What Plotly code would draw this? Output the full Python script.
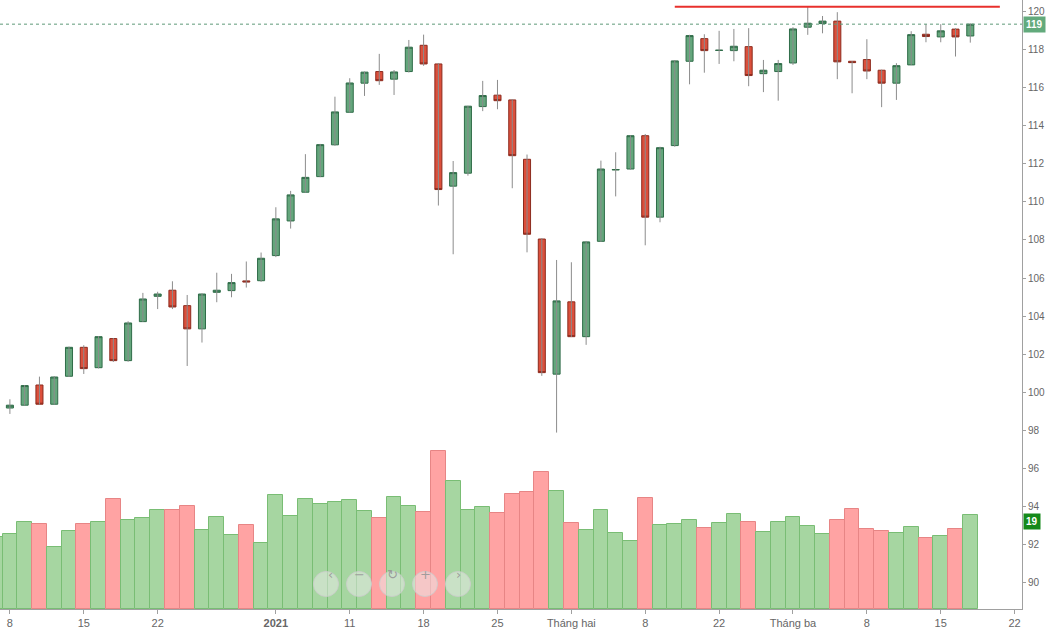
import plotly.graph_objects as go

# ---------------- data ----------------
dates = [
    "2020-12-07", "2020-12-08", "2020-12-09", "2020-12-10", "2020-12-11",
    "2020-12-14", "2020-12-15", "2020-12-16", "2020-12-17", "2020-12-18",
    "2020-12-21", "2020-12-22", "2020-12-23", "2020-12-24", "2020-12-25",
    "2020-12-28", "2020-12-29", "2020-12-30", "2020-12-31",
    "2021-01-04", "2021-01-05", "2021-01-06", "2021-01-07", "2021-01-08",
    "2021-01-11", "2021-01-12", "2021-01-13", "2021-01-14", "2021-01-15",
    "2021-01-18", "2021-01-19", "2021-01-20", "2021-01-21", "2021-01-22",
    "2021-01-25", "2021-01-26", "2021-01-27", "2021-01-28", "2021-01-29",
    "2021-02-01", "2021-02-02", "2021-02-03", "2021-02-04", "2021-02-05",
    "2021-02-08", "2021-02-09", "2021-02-17", "2021-02-18", "2021-02-19",
    "2021-02-22", "2021-02-23", "2021-02-24", "2021-02-25", "2021-02-26",
    "2021-03-01", "2021-03-02", "2021-03-03", "2021-03-04", "2021-03-05",
    "2021-03-08", "2021-03-09", "2021-03-10", "2021-03-11", "2021-03-12",
    "2021-03-15", "2021-03-16", "2021-03-17",
]
future_dates = ["2021-03-18", "2021-03-19", "2021-03-22"]

opens = [98.37, 99.17, 99.32, 100.38, 99.37, 100.84, 102.36, 101.29, 102.82, 101.66,
         103.71, 105.04, 105.36, 104.55, 103.33, 105.25, 105.34, 105.85, 105.86, 107.18,
         109.00, 110.51, 111.33, 113.00, 114.71, 116.24, 116.85, 116.45, 116.85, 118.23,
         117.25, 110.83, 111.51, 115.01, 115.61, 115.36, 112.24, 108.05, 100.95, 104.75,
         102.92, 107.93, 111.68, 111.73, 113.48, 109.20, 112.96, 117.39, 118.58, 117.96,
         117.95, 118.16, 116.74, 116.85, 117.30, 119.18, 119.37, 119.50, 117.39, 117.48,
         116.92, 116.24, 117.20, 118.81, 118.67, 119.08, 118.72]
highs = [99.30, 99.63, 100.38, 100.82, 100.85, 102.40, 102.47, 102.95, 102.85, 103.73,
         105.22, 105.28, 105.83, 105.11, 105.20, 106.28, 106.22, 106.87, 107.34, 109.72,
         110.58, 112.51, 113.05, 115.53, 116.50, 116.85, 117.78, 116.93, 118.51, 118.79,
         117.30, 112.15, 115.05, 116.36, 116.41, 115.40, 112.49, 108.10, 106.95, 106.83,
         107.95, 112.17, 112.61, 113.50, 113.57, 112.90, 117.45, 118.78, 118.81, 118.99,
         119.09, 119.13, 117.46, 117.46, 119.18, 120.26, 119.77, 119.97, 117.40, 118.55,
         116.95, 117.29, 118.97, 119.34, 119.34, 119.13, 119.37]
lows = [98.30, 98.86, 99.30, 99.35, 99.35, 100.80, 100.96, 101.25, 101.59, 101.60,
        103.70, 104.37, 104.37, 101.38, 102.61, 104.73, 104.99, 105.50, 105.80, 107.10,
        108.60, 110.49, 111.30, 112.95, 114.70, 115.57, 116.15, 115.62, 116.80, 117.15,
        109.81, 107.25, 111.38, 114.77, 114.87, 110.72, 107.35, 100.86, 97.88, 102.90,
        102.49, 107.90, 110.29, 111.70, 107.72, 108.93, 112.90, 116.18, 116.79, 117.25,
        117.39, 116.08, 115.77, 115.32, 117.20, 118.78, 118.86, 116.45, 115.71, 116.45,
        114.98, 115.36, 117.20, 118.39, 118.39, 117.64, 118.37]
closes = [99.24, 99.32, 100.35, 99.37, 100.80, 102.36, 101.24, 102.92, 101.66, 103.64,
          104.90, 105.16, 104.48, 103.33, 105.16, 105.36, 105.76, 105.80, 107.04, 109.11,
          110.37, 111.29, 113.01, 114.73, 116.25, 116.82, 116.37, 116.83, 118.13, 117.25,
          110.65, 111.54, 115.03, 115.59, 115.32, 112.43, 108.30, 101.03, 104.80, 102.92,
          107.90, 111.73, 111.70, 113.48, 109.20, 112.85, 117.41, 118.74, 117.95, 117.97,
          118.18, 116.64, 116.92, 117.27, 119.09, 119.39, 119.50, 117.36, 117.32, 116.88,
          116.24, 117.16, 118.79, 118.69, 118.99, 118.67, 119.34]
volumes = [14.85, 15.46, 18.00, 17.46, 12.72, 16.08, 17.46, 17.88, 22.62, 18.41,
           18.82, 20.41, 20.41, 21.24, 16.29, 19.03, 15.26, 17.26, 13.67, 23.44,
           19.18, 22.62, 21.65, 22.06, 22.41, 20.27, 18.82, 23.03, 21.24, 20.00,
           32.58, 26.39, 20.41, 21.03, 19.79, 23.77, 24.19, 28.19, 24.39, 17.67,
           16.29, 20.41, 15.61, 14.08, 22.82, 17.26, 17.46, 18.41, 16.70, 17.67,
           19.65, 17.88, 15.88, 17.88, 19.03, 17.05, 15.46, 18.29, 20.62, 16.49,
           16.08, 15.67, 16.91, 14.70, 15.05, 16.49, 19.44]

tick_dates = ["2020-12-08", "2020-12-15", "2020-12-22", "2021-01-04", "2021-01-11",
              "2021-01-18", "2021-01-25", "2021-02-01", "2021-02-08", "2021-02-22",
              "2021-03-01", "2021-03-08", "2021-03-15", "2021-03-22"]
tick_labels = ["8", "15", "22", "<b>2021</b>", "11", "18", "25", "Tháng hai", "8", "22",
               "Tháng ba", "8", "15", "22"]
price_ticks = list(range(90, 122, 2))

resistance_level = 120.25
resistance_from = "2021-02-17"
resistance_to = "2021-03-19"

# ---------------- styling ----------------
FONT = "Liberation Sans, Arial, sans-serif"
up_fill, up_line = "#64a67c", "#2f6c48"
dn_fill, dn_line = "#dc4f3b", "#8c2b1e"
vol_up_fill, vol_up_line = "#a6d6a1", "#79bd74"
vol_dn_fill, vol_dn_line = "#ffa3a3", "#e78585"

is_up = [c >= o for o, c in zip(opens, closes)]

fig = go.Figure()

# volume bars
fig.add_trace(go.Bar(
    x=dates, y=volumes, yaxis="y2",
    marker=dict(color=[vol_up_fill if u else vol_dn_fill for u in is_up],
                line=dict(color=[vol_up_line if u else vol_dn_line for u in is_up], width=1)),
    width=1.0, hoverinfo="skip", showlegend=False,
))

# wicks
wx, wy = [], []
for d, h, l in zip(dates, highs, lows):
    wx += [d, d, None]
    wy += [l, h, None]
fig.add_trace(go.Scatter(x=wx, y=wy, mode="lines", line=dict(color="#8c8c8c", width=1),
                         hoverinfo="skip", showlegend=False))

# candle bodies
fig.add_trace(go.Candlestick(
    x=dates, open=opens, close=closes,
    high=[max(o, c) for o, c in zip(opens, closes)],
    low=[min(o, c) for o, c in zip(opens, closes)],
    increasing=dict(fillcolor=up_fill, line=dict(color=up_line, width=1)),
    decreasing=dict(fillcolor=dn_fill, line=dict(color=dn_line, width=1)),
    whiskerwidth=0, showlegend=False, hoverinfo="skip",
))

fig.update_layout(
    width=1050, height=630,
    margin=dict(l=0, r=28, t=0, b=21),
    paper_bgcolor="white", plot_bgcolor="white",
    font=dict(family=FONT, size=11, color="#666666"),
    showlegend=False, bargap=0, boxgap=0.32,
    xaxis=dict(
        type="category", categoryorder="array", categoryarray=dates + future_dates,
        range=[0.33, 69.5], rangeslider=dict(visible=False),
        tickmode="array", tickvals=tick_dates, ticktext=tick_labels,
        showgrid=False, zeroline=False, showline=True, linecolor="#a0a0a0", linewidth=1,
        ticks="outside", ticklen=4, tickcolor="#a0a0a0",
        tickfont=dict(family=FONT, size=11, color="#666666"), automargin=False,
    ),
    yaxis=dict(
        side="right", range=[88.61, 120.61], tickmode="array", tickvals=price_ticks,
        showgrid=False, zeroline=False, showline=True, linecolor="#a0a0a0", linewidth=1,
        ticks="outside", ticklen=3, tickcolor="#a0a0a0",
        tickfont=dict(family=FONT, size=10, color="#666666"), automargin=False,
    ),
    yaxis2=dict(overlaying="y", range=[0, 125.57], visible=False, showgrid=False),
)

# dotted line at last close
fig.add_shape(type="line", xref="paper", x0=0, x1=1, yref="y", y0=closes[-1], y1=closes[-1],
              line=dict(color="#5f9a78", width=1, dash="dot"))
# resistance line
fig.add_shape(type="line", xref="x", x0=resistance_from, x1=resistance_to, yref="y",
              y0=resistance_level, y1=resistance_level, line=dict(color="#e8302c", width=2))

# last price / last volume labels
fig.add_annotation(xref="paper", x=1, xanchor="left", xshift=1, yref="y", y=closes[-1],
                   text=f"<b>{closes[-1]:.0f}</b>", showarrow=False, bgcolor="#62aa7c",
                   font=dict(family=FONT, size=10, color="white"), borderpad=2)
fig.add_annotation(xref="paper", x=1, xanchor="left", xshift=1, yref="y2", y=volumes[-1],
                   yshift=-7,
                   text=f"<b>{volumes[-1]:.0f}</b>", showarrow=False, bgcolor="#15891a",
                   font=dict(family=FONT, size=10, color="white"), borderpad=2)

# navigation buttons overlay
nav_symbols = ["‹", "−", "↻", "+", "›"]
for i, s in enumerate(nav_symbols):
    cx = (326 + 33 * i) / 1022
    cy = 1 - 584 / 609
    fig.add_shape(type="circle", xref="paper", yref="paper", xsizemode="pixel", ysizemode="pixel",
                  xanchor=cx, yanchor=cy, x0=-12.5, x1=12.5, y0=-12.5, y1=12.5,
                  fillcolor="rgba(235,235,235,0.5)", line=dict(color="rgba(205,205,205,0.85)", width=1))
    fig.add_annotation(xref="paper", yref="paper", x=cx, y=cy, text=s, showarrow=False,
                       font=dict(family="DejaVu Sans", size=13, color="rgba(150,150,150,0.9)"))

fig.write_html("out.html")
